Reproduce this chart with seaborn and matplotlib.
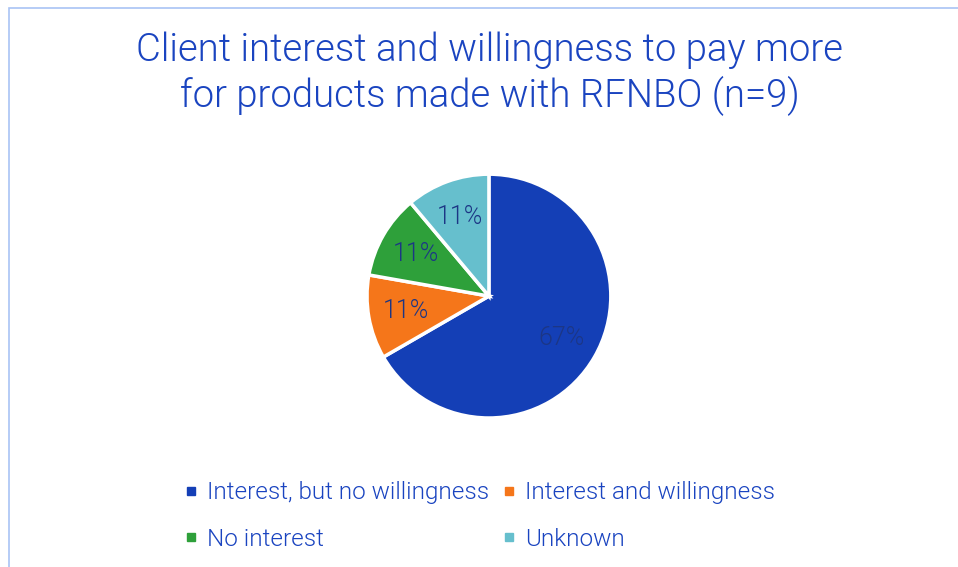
import matplotlib
matplotlib.use("Agg")
import matplotlib.pyplot as plt
import seaborn as sns
from matplotlib.lines import Line2D
from matplotlib.patches import Rectangle

categories = ["Interest, but no willingness", "Interest and willingness", "No interest", "Unknown"]
counts = [6, 1, 1, 1]
colors = ["#143FB6", "#F5761A", "#2EA03A", "#66BFCD"]
title = "Client interest and willingness to pay more\nfor products made with RFNBO (n=9)"

sns.set_theme(style="white")
plt.rcParams["font.family"] = ["Roboto", "DejaVu Sans"]
plt.rcParams["font.weight"] = 300

fig = plt.figure(figsize=(9.58, 5.67), dpi=100)
ax = fig.add_axes([0.383, 0.2628, 0.2547, 0.430])

wedges, texts, autotexts = ax.pie(
    counts, colors=colors, startangle=90, counterclock=False,
    autopct="%1.0f%%", pctdistance=0.69,
    wedgeprops=dict(edgecolor="white", linewidth=2.5),
    textprops=dict(color="#1C3685", fontsize=18, fontweight=300),
)
ax.set_xlim(-1, 1)
ax.set_ylim(-1, 1)
ax.set_aspect("equal")

fig.text(0.511, 0.87, title, ha="center", va="center", fontsize=27.5,
         color="#1A44C0", fontweight=300, linespacing=1.2)

# legend is filled row by row in the reference
order = [0, 2, 1, 3]
handles = [Line2D([], [], marker="s", ls="", color=colors[i], markersize=6) for i in order]
labels = [categories[i] for i in order]
fig.legend(handles, labels, loc="center", bbox_to_anchor=(0.501, 0.09), ncol=2,
           frameon=False, handlelength=0.5, handletextpad=0.4,
           columnspacing=0.6, labelspacing=0.95, labelcolor="#1A44C0",
           prop=dict(size=17.5, weight=300))

fig.patches.append(Rectangle((9 / 958, -0.1), 1.2, 1.1 - 8 / 567, transform=fig.transFigure,
                             fill=False, edgecolor="#A9C3F5", linewidth=1.2))

fig.savefig("out.png", dpi=100)
